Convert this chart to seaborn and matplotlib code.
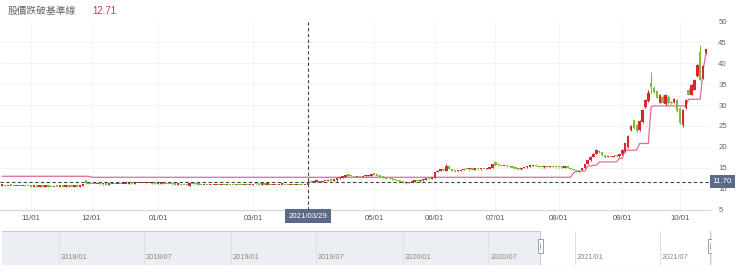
import numpy as np
import pandas as pd
import matplotlib
matplotlib.use("Agg")
import matplotlib.pyplot as plt
import matplotlib.dates as mdates
import matplotlib.transforms as mtransforms
from matplotlib.patches import Rectangle
import seaborn as sns

# ---------------- data ----------------
title_text = "股價跌破基準線"
title_value = "12.71"

start_date, end_date = "2020-10-19", "2021-10-15"
holidays = ["2021-01-01", "2021-02-08", "2021-02-09", "2021-02-10", "2021-02-11",
            "2021-02-12", "2021-02-15", "2021-02-16", "2021-03-01", "2021-04-02",
            "2021-04-05", "2021-06-14", "2021-09-20", "2021-09-21", "2021-10-11"]

opens = [
    # 2020-10
    10.70, 10.75, 10.65, 10.72, 10.68, 10.62, 10.66, 10.60, 10.64, 10.58,
    # 2020-11
    10.55, 10.50, 10.56, 10.48, 10.52, 10.45, 10.50, 10.46, 10.42, 10.48, 10.44,
    10.50, 10.46, 10.52, 10.48, 10.45, 10.50, 10.47, 10.55, 11.95, 11.30,
    # 2020-12
    11.15, 11.10, 11.05, 11.12, 11.00, 11.05, 10.98, 11.04, 11.08, 11.02, 11.10, 11.06,
    11.15, 11.20, 11.28, 11.22, 11.30, 11.35, 11.28, 11.32, 11.25, 11.30, 11.22,
    # 2021-01
    11.18, 11.20, 11.25, 11.15, 11.10, 11.05, 11.00, 10.95, 10.98, 10.90,
    10.85, 10.70, 11.25, 11.10, 11.00, 10.95, 10.90, 10.95, 10.88, 10.92,
    # 2021-02
    10.85, 10.90, 10.85, 10.92, 10.88, 10.95, 10.90, 10.86, 10.92, 10.88, 10.84, 10.90, 10.86,
    # 2021-03
    10.90, 11.10, 11.00, 10.95, 10.98, 10.92, 10.96, 10.90, 10.94, 10.88, 10.92,
    10.95, 10.90, 10.86, 10.92, 10.88, 10.94, 10.90, 10.85, 10.90, 11.72, 11.58,
    # 2021-04
    11.65, 11.70, 11.62, 11.75, 11.80, 11.95, 11.90, 11.95, 12.45, 12.60,
    12.85, 13.40, 13.00, 12.90, 12.80, 12.85, 12.78, 12.90, 13.00, 13.10,
    # 2021-05
    13.55, 13.30, 13.10, 12.85, 12.60, 12.80, 12.50, 12.20, 12.00, 11.85, 11.70,
    11.50, 11.30, 11.55, 11.70, 11.85, 11.75, 11.95, 12.15, 12.40, 12.35,
    # 2021-06
    12.55, 14.00, 14.30, 14.55, 14.30, 15.30, 14.70, 14.30, 14.10, 14.25, 14.40,
    14.95, 14.60, 14.60, 14.55, 14.65, 14.60, 14.70, 14.65, 14.80, 14.95,
    # 2021-07
    16.30, 15.60, 15.55, 15.40, 15.45, 15.30, 15.20, 15.15, 14.80, 14.60, 14.90,
    15.10, 15.25, 15.40, 15.50, 15.35, 15.20, 15.10, 15.25, 15.15, 15.30, 15.20,
    # 2021-08
    15.15, 15.10, 15.05, 15.20, 15.00, 14.70, 14.40, 14.00, 14.40, 14.90, 15.90,
    16.80, 17.60, 18.40, 19.10, 18.70, 18.00, 17.50, 17.80, 17.60, 17.90, 17.70,
    # 2021-09
    18.20, 19.00, 20.00, 24.00, 26.40, 25.20, 24.00, 26.00, 29.50, 31.00,
    35.30, 34.00, 33.30, 30.60, 32.00, 30.20, 32.00, 30.60, 30.80, 31.30,
    # 2021-10
    29.30, 25.30, 29.30, 33.50, 32.50, 33.70, 36.90, 42.60, 36.50, 42.50,
]

closes = [
    10.75, 10.65, 10.72, 10.68, 10.62, 10.66, 10.60, 10.64, 10.58, 10.55,
    10.50, 10.56, 10.48, 10.52, 10.45, 10.50, 10.46, 10.42, 10.48, 10.44, 10.50,
    10.46, 10.52, 10.48, 10.45, 10.50, 10.47, 10.55, 11.10, 11.25, 11.15,
    11.10, 11.05, 11.12, 11.00, 11.05, 10.98, 11.04, 11.08, 11.02, 11.10, 11.06, 11.15,
    11.20, 11.28, 11.22, 11.30, 11.35, 11.28, 11.32, 11.25, 11.30, 11.22, 11.18,
    11.20, 11.25, 11.15, 11.10, 11.05, 11.00, 10.95, 10.98, 10.90, 10.85,
    10.80, 11.30, 11.10, 11.00, 10.95, 10.90, 10.95, 10.88, 10.92, 10.85,
    10.90, 10.85, 10.92, 10.88, 10.95, 10.90, 10.86, 10.92, 10.88, 10.84, 10.90, 10.86, 10.92,
    11.10, 11.00, 10.95, 10.98, 10.92, 10.96, 10.90, 10.94, 10.88, 10.92, 10.95,
    10.90, 10.86, 10.92, 10.88, 10.94, 10.90, 10.85, 10.88, 11.70, 11.60, 11.65,
    11.70, 11.62, 11.75, 11.80, 11.95, 11.90, 12.00, 12.45, 12.60, 12.85,
    13.05, 13.00, 12.90, 12.80, 12.85, 12.78, 12.90, 13.00, 13.10, 13.20,
    13.30, 13.10, 12.85, 12.60, 12.35, 12.50, 12.20, 12.00, 11.85, 11.70, 11.40,
    11.30, 11.55, 11.70, 11.85, 11.75, 11.95, 12.15, 12.40, 12.35, 12.50,
    13.90, 14.30, 14.55, 14.35, 15.50, 14.70, 14.30, 14.10, 14.25, 14.40, 14.55,
    14.70, 14.60, 14.55, 14.65, 14.60, 14.70, 14.65, 14.80, 14.95, 15.90,
    15.60, 15.55, 15.40, 15.45, 15.30, 15.20, 15.05, 14.80, 14.60, 14.90, 15.10,
    15.25, 15.40, 15.50, 15.35, 15.20, 15.10, 15.25, 15.15, 15.30, 15.20, 15.10,
    15.10, 15.05, 15.20, 15.00, 14.70, 14.40, 14.10, 14.20, 14.90, 15.90, 16.80,
    17.60, 18.40, 19.20, 18.70, 18.00, 17.50, 17.80, 17.60, 17.90, 17.70, 18.20,
    19.20, 20.80, 22.70, 25.10, 24.50, 23.80, 26.30, 28.70, 31.20, 33.00,
    34.40, 33.20, 31.80, 32.40, 30.60, 32.30, 30.50, 30.40, 31.50, 28.50,
    25.80, 28.90, 31.30, 32.50, 34.90, 36.10, 39.70, 36.10, 39.30, 43.30,
]

highs = [
    10.78, 10.78, 10.74, 10.74, 10.70, 10.68, 10.68, 10.66, 10.66, 10.60,
    10.58, 10.58, 10.58, 10.54, 10.54, 10.52, 10.52, 10.48, 10.50, 10.50, 10.52,
    10.52, 10.54, 10.54, 10.50, 10.52, 10.52, 10.58, 11.15, 12.05, 11.35,
    11.18, 11.14, 11.15, 11.15, 11.08, 11.08, 11.06, 11.10, 11.10, 11.12, 11.12, 11.18,
    11.22, 11.30, 11.30, 11.32, 11.38, 11.38, 11.35, 11.35, 11.33, 11.32, 11.25,
    11.24, 11.28, 11.28, 11.18, 11.12, 11.08, 11.03, 11.00, 11.00, 10.93,
    10.88, 11.38, 11.28, 11.12, 11.03, 10.98, 10.98, 10.97, 10.95, 10.94,
    10.93, 10.92, 10.94, 10.94, 10.97, 10.97, 10.92, 10.94, 10.94, 10.90, 10.92, 10.92, 10.94,
    11.15, 11.12, 11.02, 11.00, 11.00, 10.98, 10.98, 10.96, 10.96, 10.94, 10.97,
    10.97, 10.92, 10.94, 10.94, 10.96, 10.96, 10.92, 10.90, 11.75, 11.76, 11.68,
    11.75, 11.74, 11.78, 11.85, 12.00, 11.98, 12.05, 12.50, 12.68, 12.90,
    13.10, 13.55, 13.05, 12.95, 12.90, 12.88, 12.95, 13.05, 13.15, 13.25,
    13.65, 13.35, 13.15, 12.90, 12.65, 12.85, 12.55, 12.25, 12.05, 11.90, 11.75,
    11.55, 11.60, 11.75, 11.90, 11.90, 12.00, 12.20, 12.45, 12.45, 12.55,
    14.00, 14.40, 14.65, 14.60, 15.80, 15.40, 14.75, 14.35, 14.30, 14.45, 14.60,
    15.05, 14.70, 14.65, 14.70, 14.70, 14.75, 14.75, 14.85, 15.00, 16.00,
    16.50, 15.70, 15.60, 15.50, 15.50, 15.35, 15.25, 15.20, 14.85, 14.95, 15.15,
    15.30, 15.45, 15.55, 15.55, 15.40, 15.25, 15.30, 15.30, 15.35, 15.35, 15.25,
    15.20, 15.15, 15.25, 15.25, 15.05, 14.75, 14.45, 14.25, 14.95, 16.00, 16.90,
    17.70, 18.50, 19.50, 19.20, 18.75, 18.05, 17.90, 17.85, 17.95, 17.95, 18.30,
    19.40, 21.00, 22.90, 25.30, 26.60, 25.50, 26.50, 28.90, 31.40, 33.50,
    38.00, 34.50, 33.60, 32.60, 32.30, 32.60, 32.30, 30.90, 31.80, 31.50,
    29.50, 29.10, 31.50, 34.00, 35.10, 36.30, 39.90, 44.30, 39.50, 43.50,
]

lows = [
    10.66, 10.62, 10.63, 10.66, 10.60, 10.60, 10.58, 10.58, 10.56, 10.52,
    10.48, 10.48, 10.46, 10.46, 10.43, 10.43, 10.44, 10.40, 10.40, 10.42, 10.42,
    10.44, 10.44, 10.46, 10.43, 10.43, 10.45, 10.45, 10.52, 11.10, 11.10,
    11.06, 11.02, 11.02, 10.98, 10.98, 10.95, 10.96, 11.00, 11.00, 11.00, 11.04, 11.04,
    11.12, 11.18, 11.20, 11.20, 11.28, 11.26, 11.26, 11.22, 11.23, 11.20, 11.15,
    11.14, 11.17, 11.12, 11.08, 11.02, 10.98, 10.92, 10.93, 10.88, 10.82,
    10.76, 10.60, 11.06, 10.97, 10.92, 10.87, 10.88, 10.85, 10.86, 10.82,
    10.82, 10.83, 10.83, 10.86, 10.86, 10.88, 10.84, 10.84, 10.86, 10.82, 10.82, 10.84, 10.84,
    10.88, 10.98, 10.93, 10.93, 10.90, 10.90, 10.88, 10.88, 10.86, 10.86, 10.90,
    10.88, 10.84, 10.84, 10.86, 10.86, 10.88, 10.82, 10.83, 10.88, 11.55, 11.55,
    11.60, 11.58, 11.60, 11.72, 11.78, 11.86, 11.88, 11.92, 12.40, 12.55,
    12.80, 12.95, 12.85, 12.75, 12.76, 12.74, 12.75, 12.88, 12.95, 13.05,
    13.25, 13.05, 12.80, 12.55, 12.30, 12.45, 12.15, 11.95, 11.80, 11.65, 11.35,
    11.20, 11.25, 11.50, 11.65, 11.70, 11.70, 11.90, 12.10, 12.30, 12.30,
    12.50, 13.90, 14.25, 14.30, 14.25, 14.60, 14.25, 14.05, 14.05, 14.20, 14.35,
    14.65, 14.55, 14.50, 14.50, 14.55, 14.55, 14.60, 14.60, 14.75, 14.90,
    15.50, 15.50, 15.35, 15.35, 15.25, 15.15, 15.00, 14.75, 14.55, 14.55, 14.85,
    15.05, 15.20, 15.35, 15.30, 15.15, 15.05, 15.05, 15.10, 15.10, 15.15, 15.05,
    15.05, 15.00, 15.00, 14.95, 14.65, 14.35, 14.00, 13.95, 14.35, 14.85, 15.80,
    16.70, 17.50, 18.30, 18.60, 17.90, 17.40, 17.45, 17.55, 17.55, 17.65, 17.65,
    18.00, 18.80, 19.80, 23.90, 24.30, 23.50, 23.80, 25.80, 29.30, 30.80,
    33.00, 33.00, 31.60, 30.40, 30.40, 30.00, 30.30, 30.20, 30.60, 28.30,
    25.50, 24.80, 29.10, 32.30, 32.30, 33.50, 36.70, 35.90, 36.30, 42.30,
]

baseline = [
    # 2020-10
    12.95, 12.95, 12.95, 12.95, 12.95, 12.95, 12.95, 12.95, 12.95, 12.95,
    # 2020-11
    12.95, 12.95, 12.95, 12.95, 12.95, 12.95, 12.95, 12.95, 12.95, 12.95, 12.95,
    12.95, 12.95, 12.95, 12.95, 12.95, 12.95, 12.95, 12.95, 12.95, 12.95,
    # 2020-12
    12.71, 12.71, 12.71, 12.71, 12.71, 12.71, 12.71, 12.71, 12.71, 12.71, 12.71, 12.71,
    12.71, 12.71, 12.71, 12.71, 12.71, 12.71, 12.71, 12.71, 12.71, 12.71, 12.71,
    # 2021-01
    12.71, 12.71, 12.71, 12.71, 12.71, 12.71, 12.71, 12.71, 12.71, 12.71,
    12.71, 12.71, 12.71, 12.71, 12.71, 12.71, 12.71, 12.71, 12.71, 12.71,
    # 2021-02
    12.71, 12.71, 12.71, 12.71, 12.71, 12.71, 12.71, 12.71, 12.71, 12.71, 12.71, 12.71, 12.71,
    # 2021-03
    12.71, 12.71, 12.71, 12.71, 12.71, 12.71, 12.71, 12.71, 12.71, 12.71, 12.71,
    12.71, 12.71, 12.71, 12.71, 12.71, 12.71, 12.71, 12.71, 12.71, 12.71, 12.71,
    # 2021-04
    12.71, 12.71, 12.71, 12.71, 12.71, 12.71, 12.71, 12.71, 12.71, 12.71,
    12.71, 12.71, 12.71, 12.71, 12.71, 12.71, 12.71, 12.71, 12.71, 12.71,
    # 2021-05
    12.71, 12.71, 12.71, 12.71, 12.71, 12.71, 12.71, 12.71, 12.71, 12.71, 12.71,
    12.71, 12.71, 12.71, 12.71, 12.71, 12.71, 12.71, 12.71, 12.71, 12.71,
    # 2021-06
    12.71, 12.71, 12.71, 12.71, 12.71, 12.71, 12.71, 12.71, 12.71, 12.71, 12.71,
    12.71, 12.71, 12.71, 12.71, 12.71, 12.71, 12.71, 12.71, 12.71, 12.71,
    # 2021-07
    12.71, 12.71, 12.71, 12.71, 12.71, 12.71, 12.71, 12.71, 12.71, 12.71, 12.71,
    12.71, 12.71, 12.71, 12.71, 12.71, 12.71, 12.71, 12.71, 12.71, 12.71, 12.71,
    # 2021-08
    12.71, 12.71, 12.71, 12.71, 12.71, 13.66, 14.20, 14.20, 14.20, 14.20, 15.40,
    15.40, 15.60, 15.60, 16.40, 16.40, 16.40, 16.40, 16.40, 16.40, 16.40, 17.25,
    # 2021-09
    17.25, 19.20, 19.20, 19.20, 19.20, 19.20, 20.80, 20.80, 20.80, 20.80,
    29.60, 29.80, 29.80, 29.80, 29.80, 29.80, 29.80, 29.80, 29.80, 29.80,
    # 2021-10
    29.80, 29.80, 29.80, 31.40, 31.40, 31.40, 31.40, 31.40, 38.40, 42.30,
]

x_tick_months = ["2020-11", "2020-12", "2021-01", "2021-03", "2021-05",
                 "2021-06", "2021-07", "2021-08", "2021-09", "2021-10"]
x_tick_labels = ["11/01", "12/01", "01/01", "03/01", "05/01",
                 "06/01", "07/01", "08/01", "09/01", "10/01"]
y_ticks = [5, 10, 15, 20, 25, 30, 35, 40, 45, 50]

cursor_date = "2021-03-29"
cursor_label = "2021/03/29"
cursor_price = 11.70
cursor_price_label = "11.70"

nav_start, nav_end = "2017-09-02", "2021-10-19"
nav_tick_dates = ["2018-01-01", "2018-07-01", "2019-01-01", "2019-07-01",
                  "2020-01-01", "2020-07-01", "2021-01-01", "2021-07-01"]
nav_tick_labels = ["2018/01", "2018/07", "2019/01", "2019/07",
                   "2020/01", "2020/07", "2021/01", "2021/07"]

# ---------------- build ----------------
dates = pd.bdate_range(start_date, end_date, freq="C", holidays=holidays)
n = len(dates)
for name, arr in [("opens", opens), ("closes", closes), ("highs", highs),
                  ("lows", lows), ("baseline", baseline)]:
    if len(arr) != n:
        raise ValueError(f"{name} has {len(arr)} values, expected {n}")

df = pd.DataFrame({"date": dates, "open": opens, "close": closes,
                   "high": highs, "low": lows, "base": baseline})
df["idx"] = np.arange(n)

RED = "#d42a2f"
GREEN = "#7dbd3a"
PINK = "#dc6c9c"
BOX = "#5b6a88"

sns.set_theme(style="white")
plt.rcParams["font.family"] = ["Liberation Sans", "DejaVu Sans"]

W, H = 740, 272
fig = plt.figure(figsize=(W / 100, H / 100), dpi=100)

# main price axes
top_px, bot_px, right_px = 21.5, 209.5, 710
ax = fig.add_axes([0, (H - bot_px) / H, right_px / W, (bot_px - top_px) / H])
ax.set_xlim(-0.76, 245.4)
ax.set_ylim(5, 50)

ax.set_yticks(y_ticks)
ax.yaxis.tick_right()
ax.tick_params(axis="y", length=0, pad=6, labelsize=5.6, labelcolor="#666666")
ax.grid(axis="y", color="#f3f3f3", linewidth=0.6)

tick_pos = [int(df.index[df["date"].dt.strftime("%Y-%m") == m][0]) for m in x_tick_months]
ax.set_xticks(tick_pos)
ax.set_xticklabels(x_tick_labels)
ax.tick_params(axis="x", length=0, pad=4, labelsize=5.6, labelcolor="#555555")
ax.grid(axis="x", color="#f3f3f3", linewidth=0.6)

for s in ["top", "left", "right"]:
    ax.spines[s].set_visible(False)
ax.spines["bottom"].set_color("#d4d4d4")
ax.spines["bottom"].set_linewidth(0.8)

# baseline line
sns.lineplot(data=df, x="idx", y="base", ax=ax, color=PINK, linewidth=0.9, zorder=3)
ax.set_xlabel("")
ax.set_ylabel("")

# candles
up = df["close"] >= df["open"]
cols = np.where(up, RED, GREEN)
ax.vlines(df["idx"], df["low"], df["high"], colors=cols, linewidth=0.8, zorder=4)
body_low = np.minimum(df["open"], df["close"])
body_h = np.maximum(np.abs(df["close"] - df["open"]), 0.32)
ax.bar(df["idx"], body_h, bottom=body_low, width=0.85, color=cols, linewidth=0, zorder=5)

# crosshair
cur_idx = int(df.index[df["date"] == pd.Timestamp(cursor_date)][0])
ax.axvline(cur_idx, color="#444444", linewidth=0.8, linestyle=(0, (3, 2.2)), zorder=6)
ax.axhline(cursor_price, color="#444444", linewidth=0.8, linestyle=(0, (3, 2.2)), zorder=6)

ax.text(cur_idx, -0.036, cursor_label, transform=mtransforms.blended_transform_factory(ax.transData, ax.transAxes),
        ha="center", va="center", color="white", fontsize=5.6, zorder=10, clip_on=False,
        bbox=dict(boxstyle="square,pad=0.45", fc=BOX, ec="none"))
ax.text(1.004, cursor_price, cursor_price_label,
        transform=mtransforms.blended_transform_factory(ax.transAxes, ax.transData),
        ha="left", va="center", color="white", fontsize=5.8, zorder=10, clip_on=False,
        bbox=dict(boxstyle="square,pad=0.4", fc=BOX, ec="none"))

# title
fig.text(8 / W, 1 - 11 / H, title_text, fontsize=7, color="#666666", va="center",
         family=["Noto Sans CJK TC", "DejaVu Sans"])
fig.text(92 / W, 1 - 11 / H, title_value, fontsize=7, color="#c7356f", va="center")

# ---------------- navigator ----------------
nav_top, nav_bot = 231, 265
nav = fig.add_axes([2 / W, (H - nav_bot) / H, 710 / W, (nav_bot - nav_top) / H])
n0, n1 = mdates.date2num(pd.Timestamp(nav_start)), mdates.date2num(pd.Timestamp(nav_end))
nav.set_xlim(n0, n1)
nav.set_ylim(0, 1)
nav.set_xticks([])
nav.set_yticks([])
for s in nav.spines.values():
    s.set_visible(False)

sel0 = mdates.date2num(dates[0])
sel1 = mdates.date2num(dates[-1])
nav.axvspan(n0, sel0, color="#ebeef2", linewidth=0, zorder=1)
nav.axvspan(sel1, n1, color="#ebeef2", linewidth=0, zorder=1)
nav.plot([n0, sel0], [0.995, 0.995], color="#c8cdd3", linewidth=0.8, zorder=3)
nav.plot([sel0, sel0, sel1, sel1], [0.995, 0.005, 0.005, 0.995], color="#c8cdd3",
         linewidth=0.8, zorder=3)

for d, lab in zip(nav_tick_dates, nav_tick_labels):
    dn = mdates.date2num(pd.Timestamp(d))
    nav.axvline(dn, color="#dde1e6", linewidth=0.7, zorder=2)
    nav.text(dn + 4, 0.22, lab, fontsize=5.3, color="#8a8a8a", ha="left", va="center", zorder=4)

handle_w = 10.5
for sx in (sel0, sel1):
    nav.add_patch(Rectangle((sx - handle_w / 2, 0.36), handle_w, 0.40, facecolor="white",
                            edgecolor="#a0a0a0", linewidth=0.7, zorder=6))
    nav.plot([sx, sx], [0.47, 0.65], color="#a0a0a0", linewidth=0.6, zorder=7)

fig.savefig("out.png", dpi=100)
